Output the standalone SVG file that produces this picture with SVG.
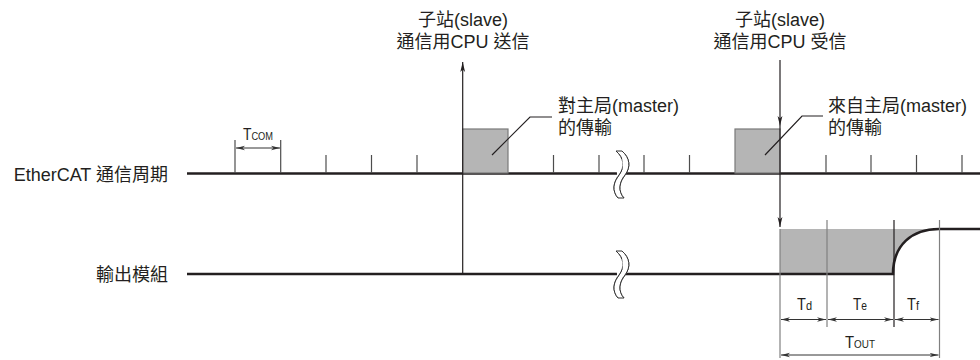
<svg xmlns="http://www.w3.org/2000/svg" width="980" height="360" viewBox="0 0 980 360">
<defs>
<marker id="ah" viewBox="0 0 10 6" refX="10" refY="3" markerWidth="10" markerHeight="6" markerUnits="userSpaceOnUse" orient="auto-start-reverse">
<path d="M0,0.6 L10,3 L0,5.4 L2.5,3 Z" fill="#231f20"/>
</marker>
<marker id="dh" viewBox="0 0 9 6" refX="9" refY="3" markerWidth="9" markerHeight="6" markerUnits="userSpaceOnUse" orient="auto-start-reverse">
<path d="M0,0.8 L9,3 L0,5.2 L2.5,3 Z" fill="#333"/>
</marker>
<style>
text{font-family:"Liberation Sans","Noto Sans CJK TC",sans-serif;fill:#231f20}
.lbl{font-size:18px}
.main{stroke:#231f20;stroke-width:2.6;fill:none}
.tick{stroke:#4d4d4d;stroke-width:1.2}
.box{fill:#b5b5b5;stroke:#7a7a7a;stroke-width:1.2}
.thin{stroke:#231f20;stroke-width:1.2;fill:none}
.ext{stroke:#808080;stroke-width:1.2}
.dim{stroke:#333;stroke-width:1;marker-start:url(#dh);marker-end:url(#dh)}
.brk{stroke:#333;stroke-width:1;fill:#fff}
.big{font-size:16.5px}
.sub{font-size:11px}
</style>
</defs>
<g id="labels-left">
<text class="lbl" x="168" y="181" text-anchor="end">EtherCAT 通信周期</text>
<text class="lbl" x="168" y="281" text-anchor="end">輸出模組</text>
</g>
<g id="ethercat-line">
<line class="main" x1="187" y1="173.5" x2="980" y2="173.5"/>
<g class="tick">
<line x1="235" y1="140" x2="235" y2="173"/>
<line x1="280.7" y1="140" x2="280.7" y2="173"/>
<line x1="326" y1="155" x2="326" y2="173"/>
<line x1="371.5" y1="155" x2="371.5" y2="173"/>
<line x1="417" y1="155" x2="417" y2="173"/>
<line x1="553.5" y1="155" x2="553.5" y2="173"/>
<line x1="599" y1="155" x2="599" y2="173"/>
<line x1="644" y1="155" x2="644" y2="173"/>
<line x1="689.5" y1="155" x2="689.5" y2="173"/>
<line x1="826" y1="155" x2="826" y2="173"/>
<line x1="871" y1="155" x2="871" y2="173"/>
<line x1="916.5" y1="155" x2="916.5" y2="173"/>
<line x1="962" y1="155" x2="962" y2="173"/>
</g>
<rect class="box" x="462.7" y="129" width="45.3" height="44"/>
<rect class="box" x="735" y="129" width="45" height="44"/>
</g>
<g id="tcom">
<line class="dim" x1="236" y1="148" x2="280" y2="148"/>
<text x="243" y="140" textLength="30" lengthAdjust="spacingAndGlyphs"><tspan class="big">T</tspan><tspan class="sub">COM</tspan></text>
</g>
<g id="output-line">
<path d="M780,229 L939,229 C912,229 893,245 893,274 L780,274 Z" fill="#b5b5b5"/>
<path class="main" d="M187,274 L893,274 C893,245 912,229 939,229 L980,229"/>
</g>
<g id="breaks">
<path class="brk" d="M616,151 C624,158 625,167 619,175 C613,183 612,191 618,198 L624,198 C618,191 619,183 625,175 C631,167 630,158 622,151 Z" stroke="none"/>
<path class="brk" fill="none" d="M616,151 C624,158 625,167 619,175 C613,183 612,191 618,198"/>
<path class="brk" fill="none" d="M622,151 C630,158 631,167 625,175 C619,183 618,191 624,198"/>
<path class="brk" d="M616,251 C624,258 625,267 619,275 C613,283 612,291 618,298 L624,298 C618,291 619,283 625,275 C631,267 630,258 622,251 Z" stroke="none"/>
<path class="brk" fill="none" d="M616,251 C624,258 625,267 619,275 C613,283 612,291 618,298"/>
<path class="brk" fill="none" d="M622,251 C630,258 631,267 625,275 C619,283 618,291 624,298"/>
</g>
<g id="send">
<text class="lbl" x="463" y="26" text-anchor="middle">子站(slave)</text>
<text class="lbl" x="463" y="48" text-anchor="middle">通信用CPU 送信</text>
<line class="thin" x1="462.7" y1="274" x2="462.7" y2="62" marker-end="url(#ah)"/>
<polyline class="thin" points="492,155 530,117 552,117"/>
<text class="lbl" x="558" y="112">對主局(master)</text>
<text class="lbl" x="558" y="134">的傳輸</text>
</g>
<g id="receive">
<text class="lbl" x="780" y="26" text-anchor="middle">子站(slave)</text>
<text class="lbl" x="780" y="48" text-anchor="middle">通信用CPU 受信</text>
<line class="thin" x1="780" y1="60" x2="780" y2="126" marker-end="url(#ah)"/>
<line class="thin" x1="780" y1="126" x2="780" y2="227" marker-end="url(#ah)"/>
<polyline class="thin" points="765,155 802,116 823,116"/>
<text class="lbl" x="828" y="112">來自主局(master)</text>
<text class="lbl" x="828" y="134">的傳輸</text>
</g>
<g id="timing">
<line class="ext" x1="780" y1="229" x2="780" y2="358"/>
<line class="ext" x1="827" y1="220" x2="827" y2="327"/>
<line class="thin" x1="894" y1="220" x2="894" y2="327"/>
<line class="ext" x1="939.5" y1="220" x2="939.5" y2="358"/>
<line class="dim" x1="781" y1="319.5" x2="826" y2="319.5"/>
<line class="dim" x1="828" y1="319.5" x2="893" y2="319.5"/>
<line class="dim" x1="895" y1="319.5" x2="938.5" y2="319.5"/>
<line class="dim" x1="781" y1="355" x2="938.5" y2="355"/>
<text x="797" y="310" textLength="15" lengthAdjust="spacingAndGlyphs"><tspan class="big">T</tspan><tspan font-size="12.5px">d</tspan></text>
<text x="853" y="310" textLength="14" lengthAdjust="spacingAndGlyphs"><tspan class="big">T</tspan><tspan font-size="12.5px">e</tspan></text>
<text x="907" y="310" textLength="12" lengthAdjust="spacingAndGlyphs"><tspan class="big">T</tspan><tspan font-size="12.5px">f</tspan></text>
<text x="845" y="348" textLength="30" lengthAdjust="spacingAndGlyphs"><tspan class="big">T</tspan><tspan class="sub">OUT</tspan></text>
</g>
</svg>
